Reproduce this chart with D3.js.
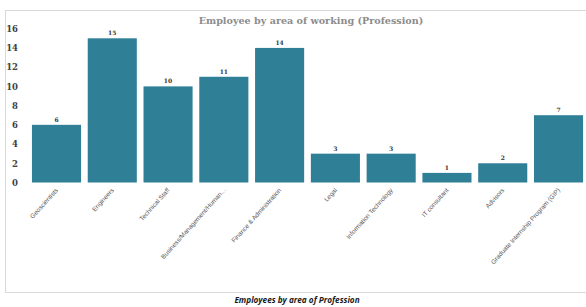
<!DOCTYPE html>
<html>
<head>
<meta charset="utf-8">
<script src="https://cdn.jsdelivr.net/npm/d3@7"></script>
<style>
  body { margin: 0; background: #fff; }
  svg { display: block; }
</style>
</head>
<body>
<div id="wrapper"></div>
<script>
// chart data
const categories = ["Geoscientists", "Engineers", "Technical Staff", "Business/Management/Human...",
  "Finance & Administration", "Legal", "Information Technology", "IT consultant", "Advisors",
  "Graduate Internship Program (GIP)"];
const counts = [6, 15, 10, 11, 14, 3, 3, 1, 2, 7];
const yTicks = [0, 2, 4, 6, 8, 10, 12, 14, 16];

const W = 586, H = 307;
var svg = d3.select("#wrapper").append("svg").attr("width", W).attr("height", H);

// outer chart frame
svg.append("rect").attr("x", 5.5).attr("y", 10.5).attr("width", 590).attr("height", 282)
  .style("fill", "none").style("stroke", "#d9d9d9");

svg.append("text").attr("x", 311).attr("y", 24).attr("text-anchor", "middle")
  .style("font-family", "'DejaVu Serif', serif").style("font-weight", "bold")
  .style("font-size", "9.6px").style("fill", "#8c8c8c")
  .text("Employee by area of working (Profession)");

var x = d3.scaleBand().domain(categories).range([28.6, 586.4]).paddingInner(0.12).paddingOuter(0.06);
var y = d3.scaleLinear().domain([0, 16]).range([182.5, 28.7]);

svg.selectAll(".bar")
  .data(counts)
  .enter().append("rect")
  .attr("class", "bar")
  .attr("x", (d, i) => x(categories[i]))
  .attr("width", x.bandwidth())
  .attr("y", d => y(d))
  .attr("height", d => y(0) - y(d))
  .style("fill", "#2f7f97");

svg.selectAll(".val")
  .data(counts)
  .enter().append("text")
  .attr("class", "val")
  .attr("x", (d, i) => x(categories[i]) + x.bandwidth() / 2)
  .attr("y", d => y(d) - 3)
  .attr("text-anchor", "middle")
  .style("font-family", "'DejaVu Serif', serif").style("font-weight", "bold")
  .style("font-size", "6px").style("fill", "#333")
  .text(d => d);

var yAxisCall = d3.axisLeft(y).tickValues(yTicks).tickSize(0).tickPadding(0);
var gy = svg.append("g").attr("transform", "translate(18,0)").call(yAxisCall);
gy.select(".domain").remove();
gy.selectAll("text").style("font-family", "'DejaVu Serif', serif").style("font-weight", "bold")
  .style("font-size", "8.5px").style("fill", "#404040");

var xAxisCall = d3.axisBottom(x).tickSize(0).tickPadding(0);
var gx = svg.append("g").attr("transform", "translate(0," + y(0) + ")").call(xAxisCall);
gx.select(".domain").remove();
gx.selectAll("text")
  .attr("x", 0).attr("y", 0).attr("dy", 0)
  .attr("transform", "translate(2,8) rotate(-48)")
  .style("text-anchor", "end")
  .style("font-family", "'Liberation Sans', sans-serif")
  .style("font-size", "6.4px").style("fill", "#595959");

svg.append("text").attr("x", 297).attr("y", 303).attr("text-anchor", "middle")
  .style("font-family", "'Open Sans', sans-serif").style("font-weight", "bold").style("font-style", "italic")
  .style("font-size", "8.2px").style("fill", "#1a1a1a")
  .text("Employees by area of Profession");
</script>
</body>
</html>
